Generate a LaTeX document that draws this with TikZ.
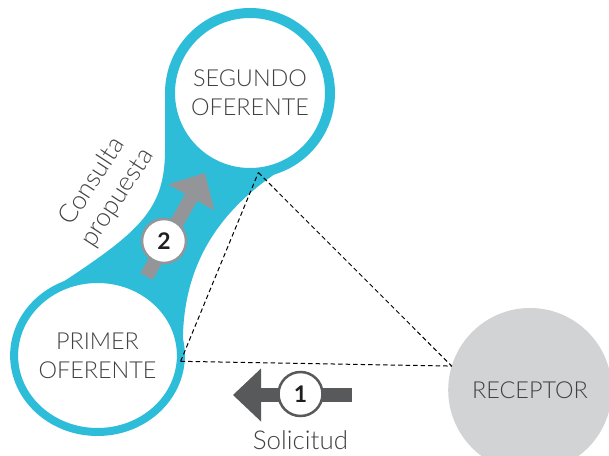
\documentclass[tikz,border=0pt]{standalone}
\usepackage{fontspec}
\setmainfont{Lato}
\newfontfamily\latolight{Lato Light}
\usetikzlibrary{arrows.meta,shapes.geometric}
\definecolor{bubblecyan}{RGB}{45,189,216}
\definecolor{receptorgrey}{RGB}{209,211,212}
\definecolor{stepgrey}{RGB}{147,149,152}
\definecolor{darkarrow}{RGB}{88,89,91}
\definecolor{labeltext}{RGB}{65,64,66}
\tikzset{
  base/.style={font=\latolight\fontsize{23.5}{29}\selectfont, align=center, inner sep=0pt, outer sep=0pt, text=labeltext},
  party/.style={base, circle, draw=bubblecyan, fill=white, line width=10bp, minimum size=160bp},
  partyoval/.style={base, ellipse, draw=bubblecyan, fill=white, line width=8bp, minimum width=163bp, minimum height=153bp},
  recvnode/.style={base, ellipse, fill=receptorgrey, minimum width=154bp, minimum height=164bp},
  badge/.style={circle, fill=white, draw=#1, line width=2.5bp, minimum size=44bp, inner sep=0pt, font=\bfseries\fontsize{23}{23}\selectfont, text=black!88},
  link/.style={dash pattern=on 4.5bp off 3bp, line width=1bp, draw=black},
  steparrow/.style={line width=14bp, draw=#1, -{Triangle[length=28bp,width=53bp,line width=0pt]}},
  lbl/.style={base, font=\latolight\fontsize{26}{30}\selectfont, text=labeltext},
}
\begin{document}
\begin{tikzpicture}[x=1bp,y=-1bp]
  \useasboundingbox (0,0) rectangle (609,456);
  % neck between the two offerers
  \fill[bubblecyan] (165,93) -- (165,150) .. controls (165,215) and (135,235) .. (37,299)
    -- (97,355) -- (183,350) .. controls (180,255) and (230,195) .. (310,153) -- (250,93) -- cycle;
  % parties
  \node[party] (segundo) at (250,93) {SEGUNDO\\OFERENTE};
  \node[partyoval] (primer) at (97.5,355.5) {PRIMER\\OFERENTE};
  \node[recvnode] (receptor) at (530,390) {RECEPTOR};
  % dashed triangle
  \draw[link] (primer.-4) -- (segundo.-84);
  \draw[link] (segundo.-84) -- (receptor.163);
  \draw[link] (primer.-4) -- (receptor.163);
  % step 2
  \coordinate (tail2) at (146.5,276.5);
  \coordinate (tip2) at (205,173);
  \draw[steparrow=stepgrey] (tail2) -- (tip2);
  \node[badge=stepgrey] (two) at (164,241) {2};
  % step 1
  \coordinate (tail1) at (352,395);
  \coordinate (tip1) at (233,395);
  \draw[steparrow=darkarrow] (tail1) -- (tip1);
  \node[badge=darkarrow] (one) at (300.5,394) {1};
  % labels
  \node[lbl, rotate=57] (consulta) at (105,190) {Consulta\\propuesta};
  \node[lbl, anchor=base] (solicitud) at (300.5,449) {Solicitud};
\end{tikzpicture}
\end{document}
